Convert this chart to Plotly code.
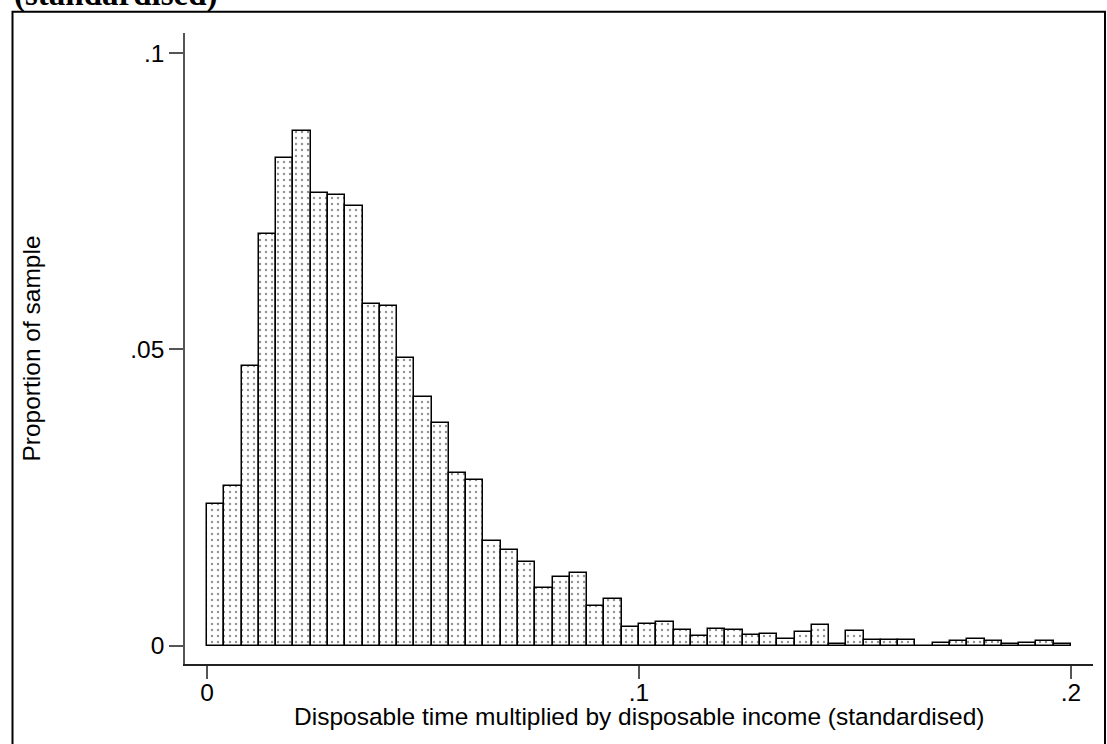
import numpy as np
import plotly.graph_objects as go

# Histogram bins: 50 bins of width 0.004 spanning 0 to 0.2
bin_width = 0.004
n_bins = 50

# Proportion of the sample falling into each bin
proportions = [
    0.0239, 0.0269, 0.0472, 0.0694, 0.0822, 0.0869, 0.0763, 0.0760, 0.0742, 0.0576,
    0.0573, 0.0485, 0.0420, 0.0376, 0.0291, 0.0280, 0.0176, 0.0162, 0.0141, 0.0097,
    0.0115, 0.0123, 0.0067, 0.0078, 0.0032, 0.0037, 0.0039, 0.0027, 0.0016, 0.0028,
    0.0026, 0.0018, 0.0019, 0.0011, 0.0023, 0.0035, 0.0002, 0.0024, 0.0010, 0.0010,
    0.0009, 0.0000, 0.0005, 0.0007, 0.0011, 0.0007, 0.0003, 0.0005, 0.0007, 0.0002,
]

x_tick_vals = [0, 0.1, 0.2]
x_tick_text = ["0", ".1", ".2"]
y_tick_vals = [0, 0.05, 0.1]
y_tick_text = ["0", ".05", ".1"]

bin_left = np.arange(n_bins) * bin_width
bin_centre = bin_left + bin_width / 2

W, H = 1107, 744
ML, MR, MT, MB = 185, 14, 33, 80
plot_w = W - ML - MR
plot_h = H - MT - MB


def px_x(px):
    return (px - ML) / plot_w


def px_y(py):
    return (H - MB - py) / plot_h


fig = go.Figure(
    go.Bar(
        x=bin_centre,
        y=proportions,
        width=bin_width,
        marker=dict(
            color="white",
            line=dict(color="black", width=1.5),
            pattern=dict(shape=".", fgcolor="#222222", bgcolor="white",
                         size=6, solidity=0.12),
        ),
        hoverinfo="x+y",
    )
)

tick_font = dict(family="Liberation Sans, Arial, sans-serif", size=24.5, color="black")

fig.update_layout(
    width=W,
    height=H,
    margin=dict(l=ML, r=MR, t=MT, b=MB),
    paper_bgcolor="white",
    plot_bgcolor="white",
    bargap=0,
    showlegend=False,
    font=tick_font,
    xaxis=dict(
        range=[-0.0051, 0.2051],
        tickvals=x_tick_vals,
        ticktext=x_tick_text,
        ticks="outside",
        ticklen=13,
        tickcolor="#555555",
        tickwidth=1.5,
        ticklabelstandoff=-7,
        showline=True,
        linecolor="#222222",
        linewidth=1.5,
        showgrid=False,
        zeroline=False,
        tickfont=tick_font,
    ),
    yaxis=dict(
        range=[-0.00312, 0.10337],
        tickvals=y_tick_vals,
        ticktext=y_tick_text,
        ticks="outside",
        ticklen=14,
        tickcolor="#555555",
        tickwidth=1.5,
        showline=True,
        linecolor="#555555",
        linewidth=1.5,
        showgrid=False,
        zeroline=False,
        tickfont=tick_font,
        title=dict(text="Proportion of sample", font=tick_font, standoff=83),
    ),
    shapes=[
        dict(
            type="rect",
            xref="paper",
            yref="paper",
            x0=px_x(12.5),
            x1=px_x(1105),
            y0=px_y(760),
            y1=px_y(11.8),
            line=dict(color="black", width=2),
            fillcolor="rgba(0,0,0,0)",
            layer="below",
        )
    ],
    annotations=[
        dict(
            text="<b>(standardised)</b>",
            xref="paper",
            yref="paper",
            x=px_x(12),
            y=px_y(15),
            xanchor="left",
            yanchor="bottom",
            showarrow=False,
            font=dict(family="Liberation Serif, Times New Roman, serif", size=33, color="black"),
        ),
        dict(
            text="Disposable time multiplied by disposable income (standardised)",
            xref="paper",
            yref="paper",
            x=0.5,
            y=px_y(716),
            xanchor="center",
            yanchor="middle",
            showarrow=False,
            font=tick_font,
        ),
    ],
)

fig.write_html("out.html")
